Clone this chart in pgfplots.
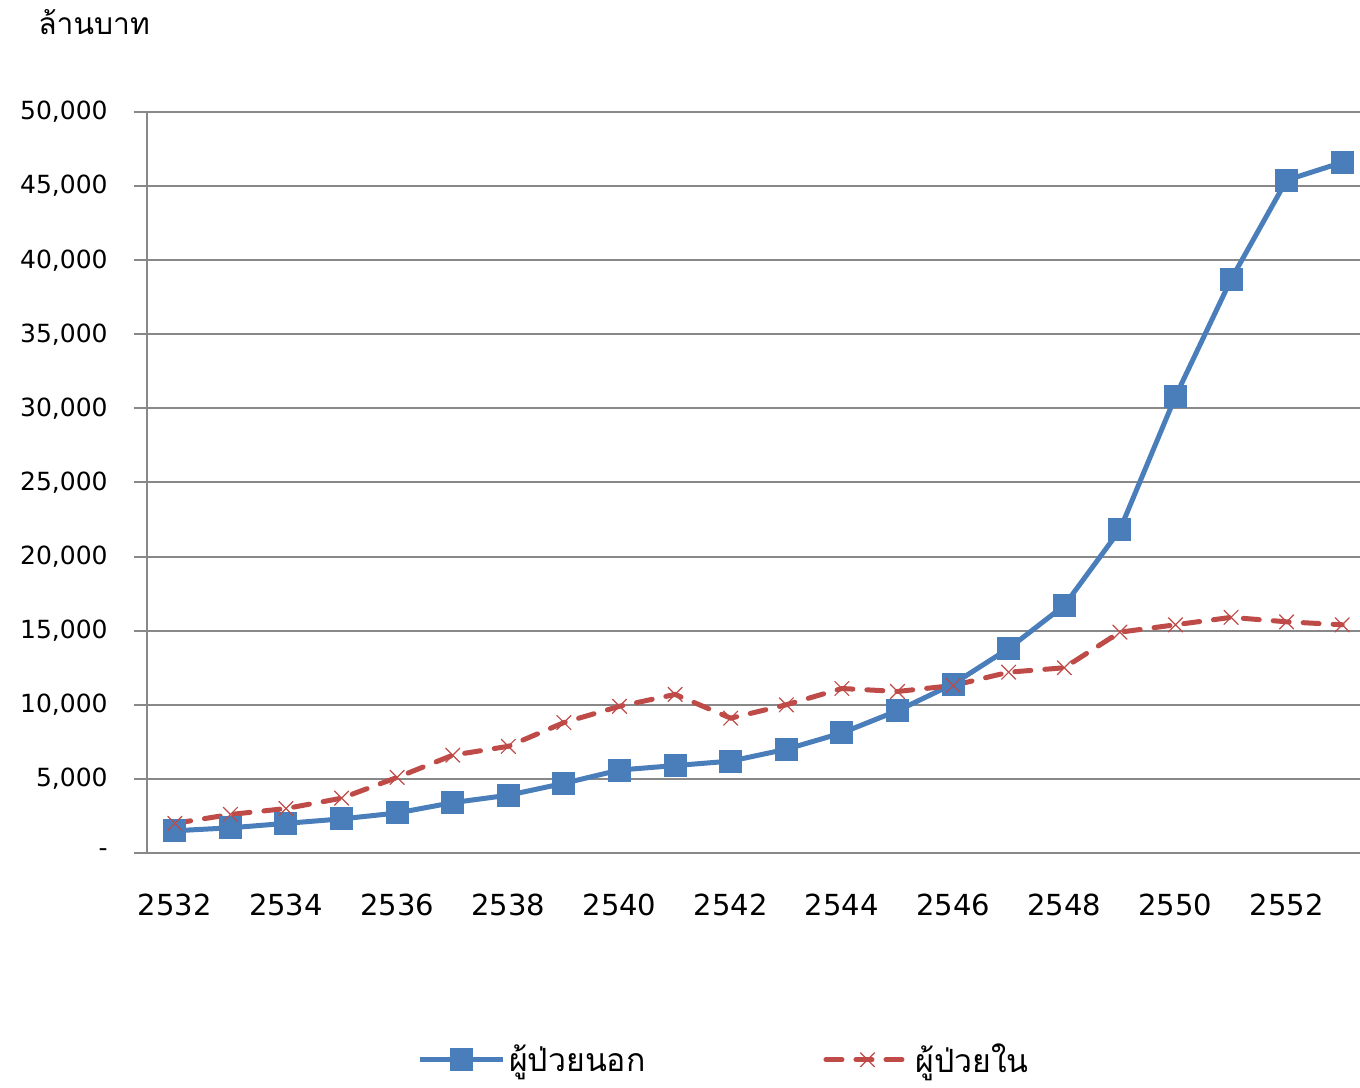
\documentclass[border=0pt]{standalone}
\usepackage{pgfplots}
\pgfplotsset{compat=1.18}
\usepackage{fontspec}
\setmainfont{DejaVu Sans}
\newfontfamily\thai[Script=Thai]{Loma}

\definecolor{outblue}{HTML}{4A7EBB}
\definecolor{inred}{HTML}{BE4B48}
\definecolor{gridgray}{HTML}{888888}

\begin{document}
\begin{tikzpicture}
\path[use as bounding box] (0,0) rectangle (680pt,543.5pt);
\begin{axis}[
    at={(73.5pt,117pt)}, anchor=south west,
    scale only axis,
    width=611.5pt, height=370.5pt,
    clip=false,
    xmin=-0.5, xmax=21.5,
    ymin=0, ymax=50000,
    scaled y ticks=false,
    axis x line*=bottom, axis y line*=left,
    axis line style={gridgray, line width=1pt},
    xtick={0,2,...,20},
    xticklabels={2532,2534,2536,2538,2540,2542,2544,2546,2548,2550,2552},
    minor xtick={-0.5,0.5,...,21.5},
    x tick style={draw=none},
    minor tick length=7pt,
    minor x tick style={gridgray, line width=1pt},
    ytick={0,5000,...,50000},
    yticklabels={-,{5,000},{10,000},{15,000},{20,000},{25,000},{30,000},{35,000},{40,000},{45,000},{50,000}},
    y tick style={gridgray, line width=1pt},
    major tick length=6.5pt,
    tick align=outside,
    ymajorgrids,
    grid style={gridgray, line width=1pt},
    xticklabel style={font=\fontsize{14.5}{16}\selectfont, inner sep=0pt, yshift=-14pt},
    yticklabel style={font=\fontsize{12.5}{14}\selectfont, inner sep=0pt, xshift=-13pt},
    legend columns=2,
    legend style={draw=none, fill=none, at={(0.4726,-0.279)}, anchor=center,
        font=\thai\fontsize{16}{18}\selectfont,
        /tikz/every even column/.append style={column sep=87pt}},
    legend image code/.code={
        \draw[mark repeat=2,mark phase=2] plot coordinates {(0pt,0pt) (20.75pt,0pt) (41.5pt,0pt)};},
]
\addplot[outblue, line width=2.5pt, mark=square*, mark size=4.5pt, mark options={solid}]
coordinates {(0,1500) (1,1700) (2,2000) (3,2300) (4,2700) (5,3400) (6,3900) (7,4700)
(8,5600) (9,5900) (10,6200) (11,7000) (12,8100) (13,9600) (14,11400) (15,13800)
(16,16700) (17,21800) (18,30800) (19,38700) (20,45400) (21,46600)};
\addlegendentry{ผู้ป่วยนอก}
\addplot[inred, line width=2.5pt, line cap=round, dash pattern=on 8pt off 7pt,
    mark=x, mark size=5pt, mark options={solid, line width=0.6pt}]
coordinates {(0,2000) (1,2600) (2,3000) (3,3700) (4,5100) (5,6600) (6,7200) (7,8800)
(8,9900) (9,10700) (10,9100) (11,10000) (12,11100) (13,10900) (14,11300) (15,12200)
(16,12500) (17,14900) (18,15400) (19,15900) (20,15600) (21,15400)};
\addlegendentry{ผู้ป่วยใน}
\node[font=\thai\fontsize{15}{17}\selectfont] at (rel axis cs:-0.0433,1.1215) {ล้านบาท};
\end{axis}
\end{tikzpicture}
\end{document}
